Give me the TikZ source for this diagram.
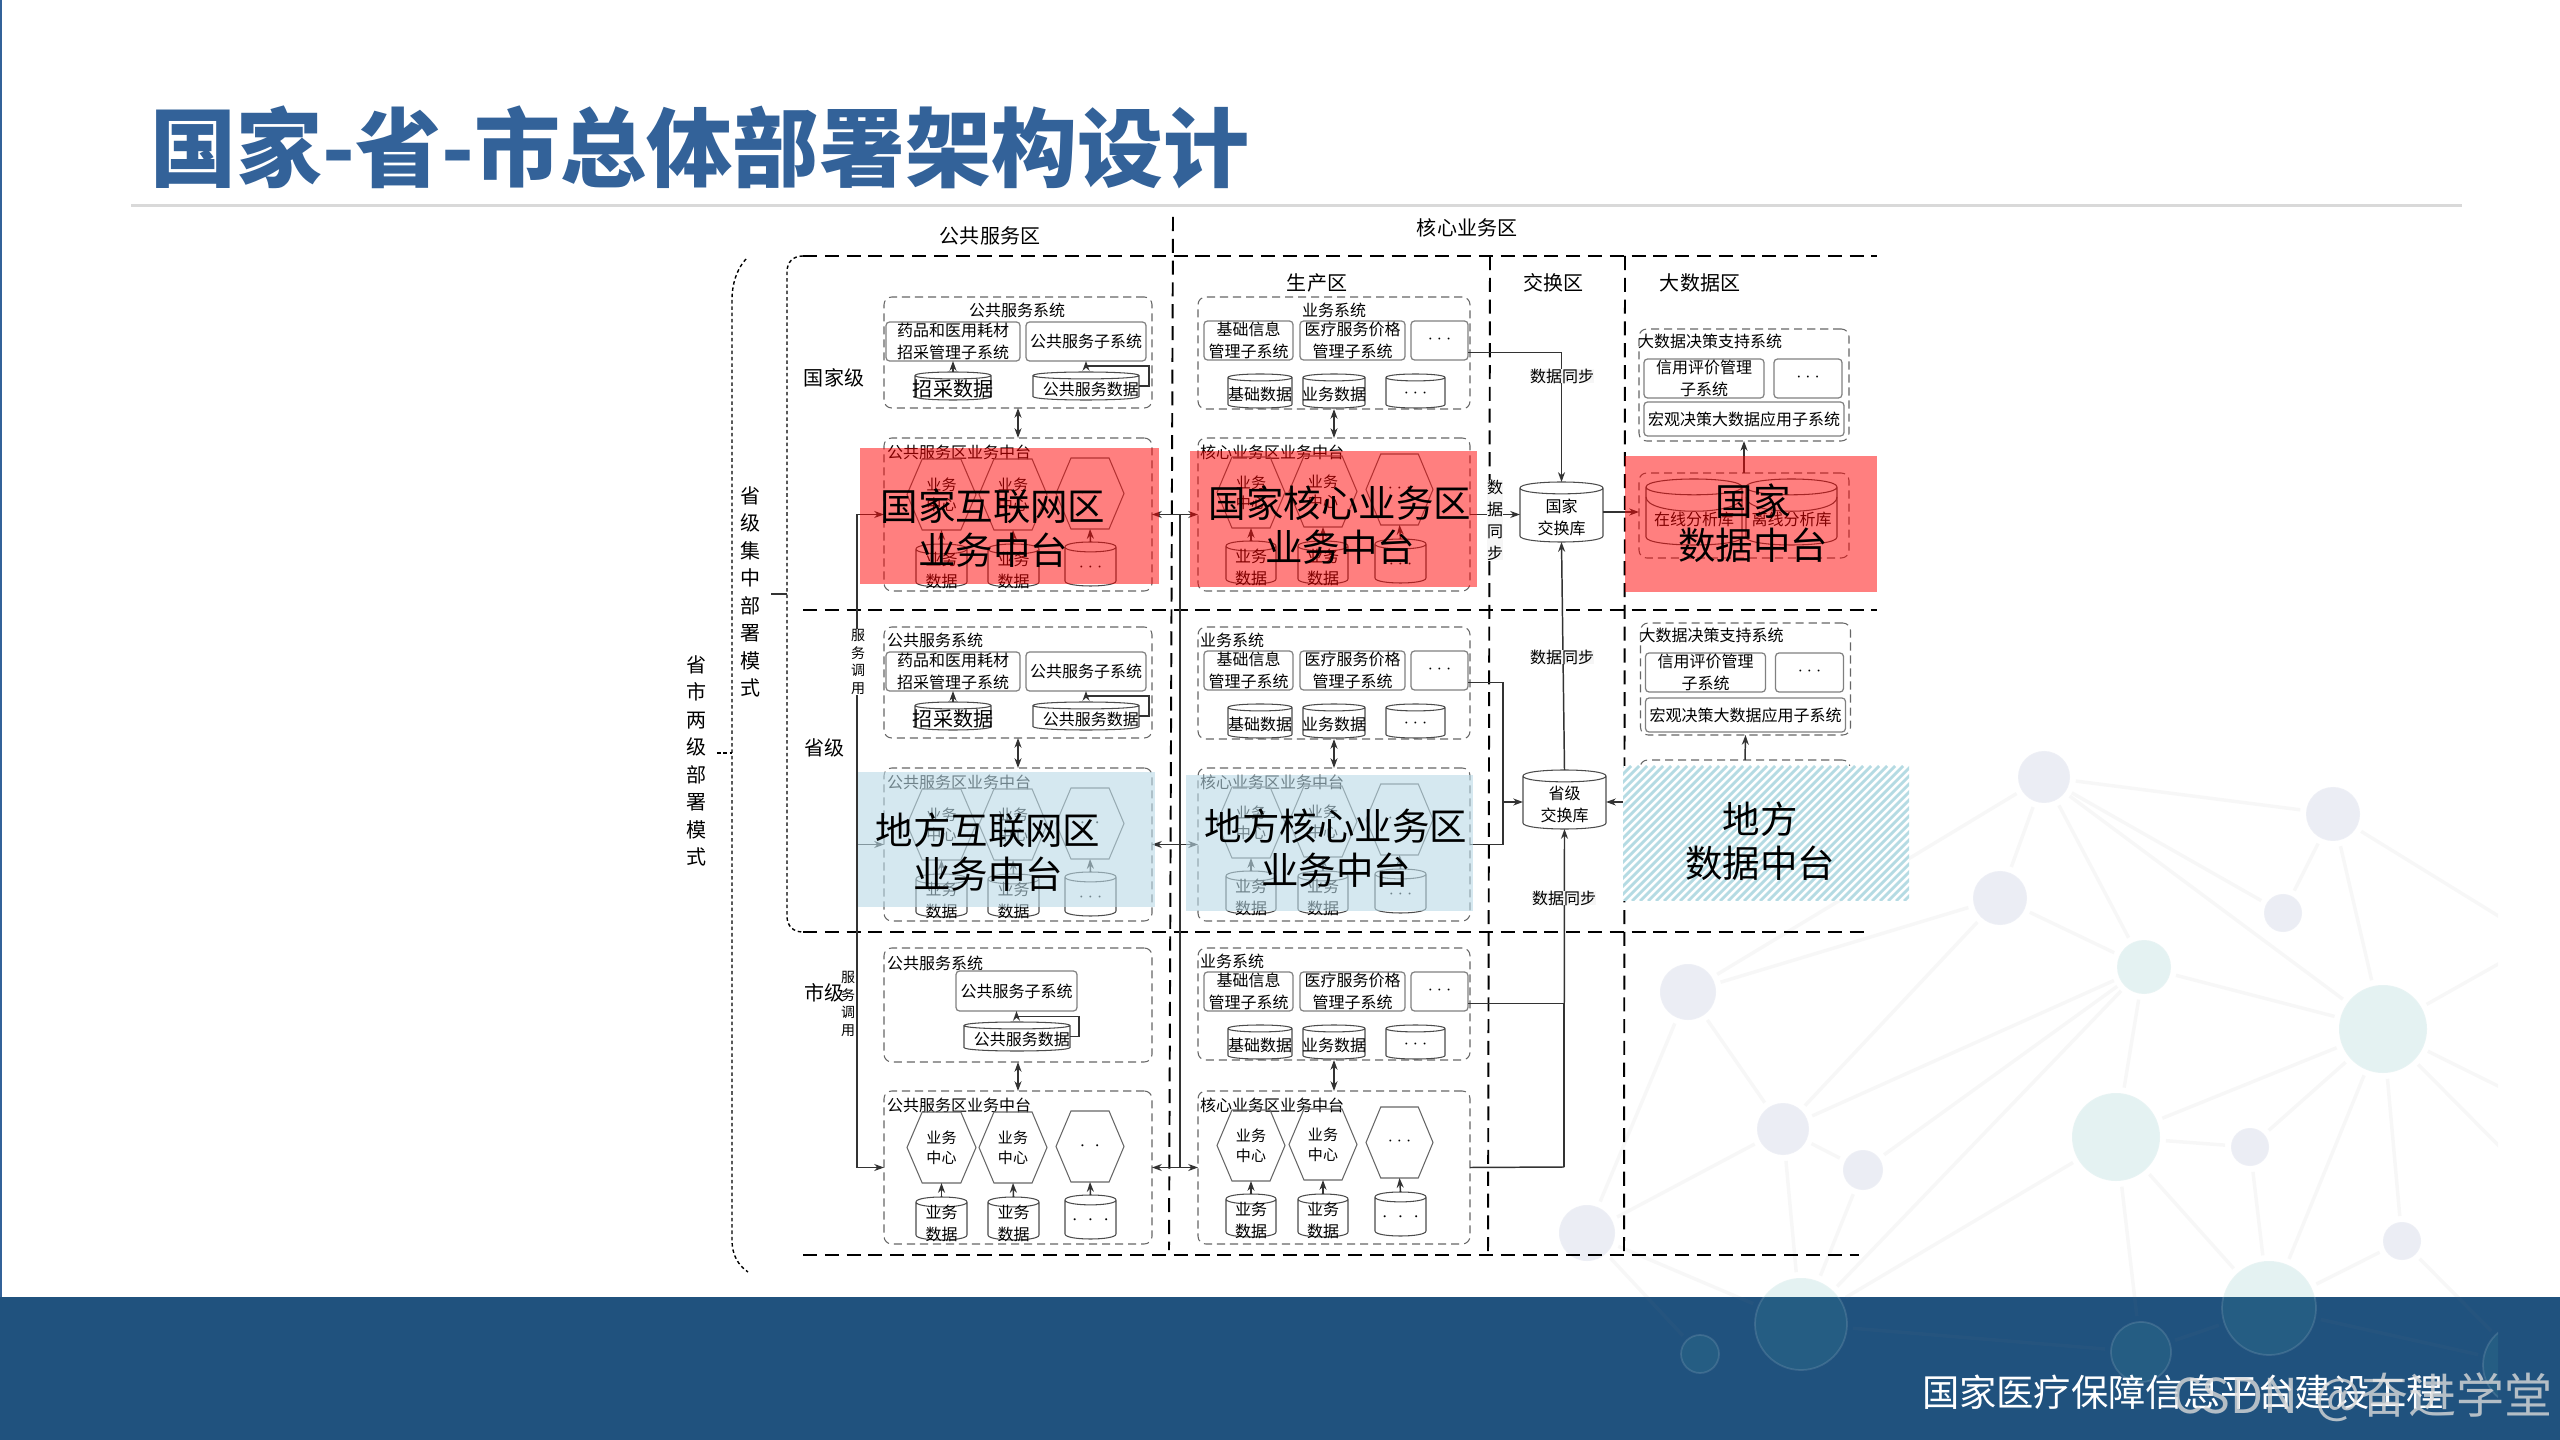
\documentclass[tikz,border=0pt]{standalone}
\usepackage{fontspec}
\setmainfont{Noto Sans CJK SC}
\usetikzlibrary{arrows.meta,calc}
\definecolor{azul}{HTML}{336299}
\definecolor{banda}{HTML}{20527E}
\definecolor{tealdot}{RGB}{68,164,164}
\definecolor{lavdot}{RGB}{116,128,182}
\definecolor{azulclaro}{RGB}{185,217,230}
\definecolor{rayas}{HTML}{B5DBE3}
\newcommand{\fpeq}{\fontsize{3.98}{5.1}\selectfont}
\newcommand{\fnor}{\fontsize{4.55}{6.26}\selectfont}
\newcommand{\fhex}{\fontsize{4.27}{5.7}\selectfont}
\newcommand{\fmed}{\fontsize{5.69}{7.8}\selectfont}
\newcommand{\fgra}{\fontsize{10.65}{12.5}\selectfont}
\newcommand{\trespt}{{\fontsize{2.6}{3}\selectfont\makebox[2.6pt]{•}\makebox[2.6pt]{•}\makebox[2.6pt]{•}}}
\newcommand{\dospt}{\raisebox{-1.5pt}{\fontsize{2.8}{3}\selectfont\makebox[4.2pt]{•}\makebox[4.2pt]{•}}}
\newcommand{\tresgr}{\raisebox{-1.3pt}{\fontsize{2.8}{3}\selectfont\makebox[4.5pt]{•}\makebox[4.5pt]{•}\makebox[4.5pt]{•}}}
\tikzset{
  zona/.style={black,line width=.55pt,dash pattern=on 4pt off 2.2pt},
  puntos/.style={black,line width=.4pt,dash pattern=on 1pt off .8pt},
  lab/.style={font=\fnor,inner sep=0pt,outer sep=0pt,align=center},
  panel/.style={lab,rectangle,draw=gray!80!black,line width=.3pt,rounded corners=2.2pt,dash pattern=on 2.3pt off 1.4pt},
  subbox/.style={lab,rectangle,draw=gray,line width=.35pt,rounded corners=1pt},
  cylbody/.style={draw=gray!60!black,line width=.3pt,fill=white},
  hexbody/.style={draw=gray!80!black,line width=.3pt},
  link/.style={black!80,line width=.42pt},
  arr/.style={link,-{Stealth[length=2.8pt,width=2pt]}},
  arrb/.style={link,{Stealth[length=2.8pt,width=2pt]}-{Stealth[length=2.8pt,width=2pt]}},
  sync/.style={lab,fill=gray!7},
  rojo/.style={rectangle,fill=red,fill opacity=.5,inner sep=0pt},
  celeste/.style={rectangle,fill=azulclaro,fill opacity=.6,inner sep=0pt},
  grande/.style={lab,font=\fgra},
  netdot/.style={circle,draw=white,draw opacity=.12,line width=.5pt,fill opacity=.14,outer sep=.06cm,inner sep=0pt},
  netline/.style={gray,opacity=.06,line width=1pt}
}
% caja por esquinas
\newcommand{\bx}[7]{%
  \pgfmathsetmacro\xa{#3}\pgfmathsetmacro\ya{#4}\pgfmathsetmacro\xb{#5}\pgfmathsetmacro\yb{#6}%
  \node[#1,minimum width={(\xb-\xa)*0.01cm},minimum height={(\yb-\ya)*0.01cm}] (#2) at ({(\xa+\xb)/2},{(\ya+\yb)/2}) {#7};}
\newcommand{\cyl}[7][3.5]{%
  \pgfmathsetmacro\xa{#3}\pgfmathsetmacro\ya{#4}\pgfmathsetmacro\xb{#5}\pgfmathsetmacro\yb{#6}\pgfmathsetmacro\ee{#1}%
  \draw[cylbody] (\xa,\ya+\ee) .. controls (\xa,\ya-\ee/3) and (\xb,\ya-\ee/3) .. (\xb,\ya+\ee)
    -- (\xb,\yb-\ee) .. controls (\xb,\yb+\ee/3) and (\xa,\yb+\ee/3) .. (\xa,\yb-\ee) -- cycle
    (\xa,\ya+\ee) .. controls (\xa,\ya+2.3*\ee) and (\xb,\ya+2.3*\ee) .. (\xb,\ya+\ee);
  \bx{lab}{#2}{#3}{#4}{#5}{#6}{}
  \node[lab] (#2t) at ({(\xa+\xb)/2},{(\ya+\yb)/2+.9*\ee}) {#7};}
\newcommand{\hex}[6]{%
  \pgfmathsetmacro\xa{#2}\pgfmathsetmacro\ya{#3}\pgfmathsetmacro\xb{#4}\pgfmathsetmacro\yb{#5}%
  \pgfmathsetmacro\dd{(\xb-\xa)*.22}\pgfmathsetmacro\ym{(\ya+\yb)/2}%
  \draw[hexbody] (\xa,\ym) -- (\xa+\dd,\ya) -- (\xb-\dd,\ya) -- (\xb,\ym) -- (\xb-\dd,\yb) -- (\xa+\dd,\yb) -- cycle;
  \bx{lab,font=\fhex}{#1}{#2}{#3}{#4}{#5}{#6}}
% sistema publico
\newcommand{\pubsys}[4]{%
  \bx{panel}{#1}{884}{#2}{1152}{#2+111}{}
  \node[lab,anchor=#4] (#1t) at (#3,#2+13) {公共服务系统};
  \bx{subbox}{#1b1}{886}{#2+25}{1020}{#2+64}{药品和医用耗材\\招采管理子系统}
  \bx{subbox}{#1b2}{1026}{#2+25}{1146}{#2+64}{公共服务子系统}
  \cyl{#1c1}{915}{#2+75}{991}{#2+103}{\fmed\raisebox{-.3pt}{招采数据}}
  \cyl{#1c2}{1033}{#2+75}{1139}{#2+103}{\raisebox{-.6pt}{\kern 2.8pt 公共服务数据}}
  \draw[arr] (#1c1.north) -- (#1b1.south);
  \draw[arr] (#1c2.east) -- ++(10,0) -- ++(0,-20) -| (#1b2.south);}
% sistema central
\newcommand{\coresys}[4]{%
  \bx{panel}{#1}{1198}{#2}{1470}{#2+112}{}
  \node[lab,anchor=#4] (#1t) at (#3,#2+13) {业务系统};
  \bx{subbox}{#1b1}{1204}{#2+24}{1293}{#2+63}{基础信息\\管理子系统}
  \bx{subbox}{#1b2}{1300}{#2+24}{1405}{#2+63}{医疗服务价格\\管理子系统}
  \bx{subbox}{#1b3}{1411}{#2+24}{1468}{#2+63}{\trespt}
  \cyl{#1c1}{1228}{#2+77}{1292}{#2+111}{基础数据}
  \cyl{#1c2}{1303}{#2+77}{1365}{#2+111}{业务数据}
  \cyl{#1c3}{1386}{#2+77}{1445}{#2+111}{\trespt}}
% plataformas
\newcommand{\pubplat}[4]{%
  \bx{panel}{#1}{884}{#2}{1152}{#2+153}{}
  \node[lab,anchor=west] (#1t) at (887,#2+14) {公共服务区业务中台};
  \hex{#1h1}{907}{#2+21}{976}{#2+92}{业务\\中心}
  \hex{#1h2}{979}{#2+21}{1047}{#2+92}{业务\\中心}
  \hex{#1h3}{1056}{#2+20}{1124}{#2+91}{#3}
  \cyl[5]{#1c1}{916}{#2+106}{967}{#2+149}{业务\\数据}
  \cyl[5]{#1c2}{988}{#2+106}{1039}{#2+149}{业务\\数据}
  \cyl[5]{#1c3}{1065}{#2+104}{1116}{#2+148}{#4}
  \foreach \k in {1,2,3} {\draw[arr] (#1c\k.north) -- (#1h\k.south);}}
\newcommand{\coreplat}[3]{%
  \bx{panel}{#1}{1198}{#2}{1470}{#2+153}{}
  \node[lab,anchor=west] (#1t) at (1200,#2+14) {核心业务区业务中台};
  \hex{#1h1}{1217}{#2+19}{1285}{#2+90}{业务\\中心}
  \hex{#1h2}{1289}{#2+18}{1357}{#2+89}{业务\\中心}
  \hex{#1h3}{1366}{#2+16}{1433}{#2+87}{\trespt}
  \cyl[5]{#1c1}{1226}{#2+103}{1276}{#2+146}{业务\\数据}
  \cyl[5]{#1c2}{1298}{#2+103}{1348}{#2+146}{业务\\数据}
  \cyl[5]{#1c3}{1375}{#2+101}{1426}{#2+145}{#3}
  \foreach \k in {1,2,3} {\draw[arr] (#1c\k.north) -- (#1h\k.south);}}
% sistema de datos
\newcommand{\bigsys}[4]{%
  \bx{panel}{#1}{#2}{#3}{#2+210}{#3+112}{}
  \node[lab,anchor=west] (#1t) at (#2-1,#3+12) {大数据决策支持系统};
  \bx{subbox}{#1b1}{#2+5}{#3+30}{#2+125}{#3+69}{信用评价管理\\子系统}
  \bx{subbox}{#1b2}{#2+135}{#3+30}{#2+203}{#3+69}{\trespt}
  \bx{subbox}{#1b3}{#2+5}{#3+#4}{#2+205}{#3+#4+34}{宏观决策大数据应用子系统}}

\begin{document}
\begin{tikzpicture}[x=0.01cm,y=-0.01cm]
\useasboundingbox (0,0) rectangle (2560,1440);
\fill[white] (0,0) rectangle (2560,1440);
% fondo
\fill[azul] (0,0) rectangle (2.5,1297);
\fill[banda] (0,1297) rectangle (2560,1440);
\begin{scope}
\clip (0,0) rectangle (2498,1440);
\foreach \n/\x/\y/\rr/\col in {A/2044/777/26/lavdot,B/2333/814/27/lavdot,C/2000/898/27/lavdot,D/2283/913/19/lavdot,
  E/2144/967/27/tealdot,F/2383/1029/44/tealdot,G/1688/992/28/lavdot,H/1783/1129/26/lavdot,I/1863/1170/20/lavdot,
  J/2116/1137/44/tealdot,K/2250/1147/19/lavdot,L/2402/1241/19/lavdot,M/2269/1308/47/tealdot,N/1801/1324/46/tealdot,
  O/2141/1352/30/tealdot,P/1700/1354/19/tealdot,Q/1587/1233/28/lavdot,R/2525/1365/42/tealdot}
  {\node[netdot,fill=\col,minimum size={2*\rr*0.01cm}] (\n) at (\x,\y) {};}
\coordinate (xa) at (2500,917);
\coordinate (xb) at (2500,963);
\coordinate (xc) at (2500,1087);
\coordinate (xd) at (2500,1147);
\foreach \a/\b in {A/B,A/C,A/D,A/E,A/F,A/G,G/C,G/H,G/Q,C/E,C/H,B/D,B/F,B/xa,F/xb,F/xc,F/xd,F/E,F/J,F/K,F/M,F/L,
  E/J,E/H,E/I,E/N,J/K,J/M,J/N,J/O,K/M,L/M,L/R,H/I,H/N,H/Q,I/N,Q/N,Q/P,M/O,N/O,M/R}
  {\draw[netline] (\a) -- (\b);}
\end{scope}
% titulo y pie
\node[lab,font=\fontsize{24.47}{28}\selectfont\bfseries,text=azul] (titulo) at (700,147) {国家-省-市总体部署架构设计};
\fill[gray!30] (131,204.5) rectangle (2462,207.5);
\node[lab,font=\fontsize{10.6}{12}\selectfont,text=white,anchor=east] (pie) at (2444,1392) {国家医疗保障信息平台建设工程};
\node[lab,font=\fontsize{13.66}{16}\selectfont,text=gray!30,text opacity=.8,anchor=east] (marca) at (2553,1397) {CSDN\kern 5pt @奋进学堂};
% zonas
\draw[zona] (803,256) -- (1877,256);
\draw[zona] (803,610) -- (1877,610);
\draw[zona] (803,932) -- (1866,932);
\draw[zona] (803,1255) -- (1859,1255);
\draw[zona] (1173,217) -- (1169,1250);
\draw[zona] (1490,256) -- (1488,1255);
\draw[zona] (1625,256) -- (1624,1255);
\draw[puntos] (803,256) .. controls (793,256) and (787,262) .. (787,272) -- (787,916)
  .. controls (787,926) and (793,932) .. (803,932);
\draw[puntos] (746,259) .. controls (736,270) and (732,285) .. (732,300) -- (732,1240)
  .. controls (732,1255) and (738,1265) .. (748,1272);
\coordinate (tickaa) at (771,594);
\coordinate (tickab) at (787,594);
\coordinate (tickba) at (717,753);
\coordinate (tickbb) at (732,753);
\draw[link] (tickaa) -- (tickab);
\draw[puntos] (tickba) -- (tickbb);
\node[lab,font=\fmed] (zpub) at (990,236) {公共服务区};
\node[lab,font=\fmed] (zcore) at (1467,228) {核心业务区};
\node[lab,font=\fmed] (zprod) at (1317,283) {生产区};
\node[lab,font=\fmed] (zswap) at (1553,283) {交换区};
\node[lab,font=\fmed] (zbig) at (1700,283) {大数据区};
\node[lab,font=\fmed] (lvn) at (834,378) {国家级};
\node[lab,font=\fmed] (lvp) at (824,748) {省级};
\node[lab,font=\fmed] (lvc) at (824,993) {市级};
\node[lab,font=\fmed] (modea) at (750,592) {省\\级\\集\\中\\部\\署\\模\\式};
\node[lab,font=\fmed] (modeb) at (696,761) {省\\市\\两\\级\\部\\署\\模\\式};
% bloques
\pubsys{psn}{297}{1017}{center}
\pubsys{psp}{627}{887}{west}
\bx{panel}{psc}{884}{948}{1152}{1062}{}
\node[lab,anchor=west] (psct) at (887,963) {公共服务系统};
\bx{subbox}{pscb1}{956}{971}{1077}{1011}{公共服务子系统}
\cyl{pscc1}{964}{1022}{1070}{1051}{\raisebox{-.6pt}{\kern 2.8pt 公共服务数据}}
\draw[arr] (pscc1.east) -- ++(9,0) -- ++(0,-20) -| (pscb1.south);
\pubplat{ptn}{438}{\dospt}{\trespt}
\pubplat{ptp}{768}{\dospt}{\trespt}
\pubplat{ptc}{1091}{\dospt}{\tresgr}
\coresys{csn}{297}{1334}{center}
\coresys{csp}{627}{1200}{west}
\coresys{csc}{948}{1200}{west}
\coreplat{ctn}{438}{\trespt}
\coreplat{ctp}{768}{\trespt}
\coreplat{ctc}{1091}{\tresgr}
\foreach \l in {n,p,c} {
  \draw[arrb] (ps\l.south) -- (pt\l.north);
  \draw[arrb] (cs\l.south) -- (ct\l.north);
}
% llamadas
\coordinate (callx) at (857,0);
\coordinate (midx) at (1180,0);
\draw[link] (ptn.west -| callx) -- (ptc.west -| callx);
\draw[link] (ptn.east -| midx) -- (ptc.east -| midx);
\foreach \l in {n,p,c} {
  \draw[arr] (pt\l.west -| callx) -- (pt\l.west);
  \draw[arrb] (pt\l.east) -- (ct\l.west);
}
\node[lab,font=\fpeq,fill=white] (calla) at (858,662) {服\\务\\调\\用};
\node[lab,font=\fpeq] (callb) at (848,1004) {服\\务\\调\\用};
% intercambio
\cyl[6]{nex}{1520}{482}{1603}{542}{国家\\交换库}
\cyl[6]{pex}{1523}{770}{1606}{829}{省级\\交换库}
\coordinate (pbus) at (1503,802);
\coordinate (cbus) at (1564,1167);
\coordinate (hin) at (1623,802);
\draw[arr] ($(csnb3.east)+(0,12)$) -| (nex.north);
\draw[arr] (ctn.east) -- (nex.west |- ctn.east);
\draw[link] ($(cspb3.east)+(0,12)$) -| (pbus) |- (ctp.east);
\draw[arr] (pbus) -- (pex.west |- pbus);
\draw[arr] (pex.north) -- (nex.south);
\draw[link] ($(cscb3.east)+(0,12)$) -| (cbus);
\draw[link] (ctc.east) -- (cbus);
\draw[arr] (cbus) -- (pex.south);
\node[sync] (syna) at (1562,376) {数据同步};
\node[sync] (synb) at (1495,520) {数\\据\\同\\步};
\node[sync] (sync) at (1562,657) {数据同步};
\node[sync] (synd) at (1564,898) {数据同步};
% datos
\bigsys{bdn}{1639}{329}{73}
\bigsys{bdp}{1640.5}{623}{75}
\bx{panel}{bign}{1639}{473}{1849}{558}{}
\cyl[8]{onl}{1646}{479}{1742}{545}{\raisebox{-2.2pt}{在线分析库}}
\cyl[8]{ofl}{1746}{479}{1837}{545}{\raisebox{-2.2pt}{离线分析库}}
\draw[cylbody,fill=none] (1646,497) .. controls (1646,516) and (1742,516) .. (1742,497);
\draw[cylbody,fill=none] (1746,497) .. controls (1746,516) and (1837,516) .. (1837,497);
\bx{panel}{bigp}{1640}{760}{1850}{845}{}
\draw[arr] (nex.east) -- (bign.west |- nex.east);
\draw[arr] (bign.north) -- (bdn.south);
\draw[arr] (bigp.north) -- (bdp.south);
% capas
\bx{rojo}{redpub}{860}{448}{1159}{584}{}
\bx{rojo}{redcore}{1190}{451}{1477}{587}{}
\bx{rojo}{redbig}{1625}{456}{1877}{592}{}
\bx{celeste}{blupub}{857.5}{772}{1155}{907}{}
\bx{celeste}{blucore}{1186}{775}{1472.5}{911}{}
\fill[white] (1623,766) rectangle (1909,901);
\begin{scope}
\clip (1623,766) rectangle (1909,901);
\foreach \i in {1488,1496,...,1912} {\draw[rayas,line width=.8pt] (\i,901) -- (\i+135,766);}
\end{scope}
\draw[arr] (hin) -- (pex.east |- hin);
\node[grande] (redpubt) at (993,528) {国家互联网区\\业务中台};
\node[grande] (redcoret) at (1340,525) {国家核心业务区\\业务中台};
\node[grande] (redbigt) at (1753,523) {国家\\数据中台};
\node[grande] (blupubt) at (988,852) {地方互联网区\\业务中台};
\node[grande] (blucoret) at (1336,848) {地方核心业务区\\业务中台};
\node[grande] (hatcht) at (1760,841) {地方\\数据中台};
\end{tikzpicture}
\end{document}
